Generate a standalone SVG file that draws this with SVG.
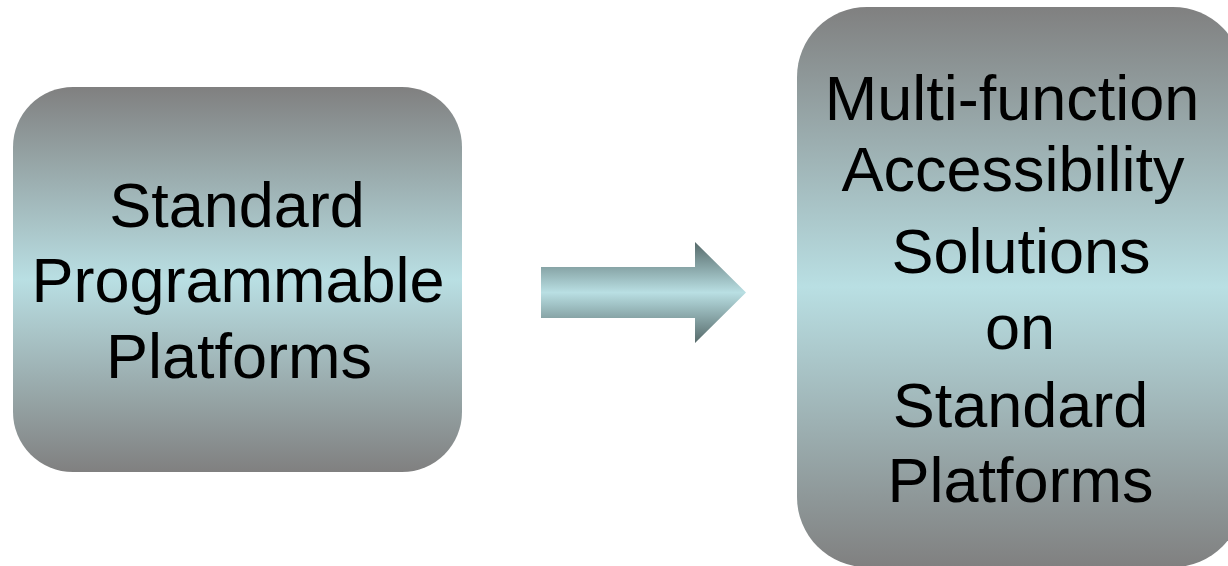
<svg xmlns="http://www.w3.org/2000/svg" width="1228" height="566" viewBox="0 0 1228 566">
  <style>
    .lbl { font-family: "Liberation Sans", Arial, sans-serif; font-size: 63px; fill: #000000; text-anchor: middle; }
  </style>
  <defs>
    <linearGradient id="boxGrad" x1="0" y1="0" x2="0" y2="1">
      <stop offset="0" stop-color="#808080"/>
      <stop offset="0.5" stop-color="#B9DFE3"/>
      <stop offset="1" stop-color="#808080"/>
    </linearGradient>
    <linearGradient id="arrowGrad" x1="0" y1="0" x2="0" y2="1">
      <stop offset="0" stop-color="#566A6A"/>
      <stop offset="0.5" stop-color="#B9DFE3"/>
      <stop offset="1" stop-color="#566A6A"/>
    </linearGradient>
  </defs>
  <rect width="1228" height="566" fill="#FFFFFF"/>
  <g id="node-standard-programmable">
    <rect x="13" y="87" width="449" height="385" rx="60" ry="60" fill="url(#boxGrad)"/>
    <text class="lbl" x="237" y="227">Standard</text>
    <text class="lbl" x="238" y="302">Programmable</text>
    <text class="lbl" x="239" y="378">Platforms</text>
  </g>
  <g id="node-multifunction">
    <rect x="797" y="7" width="446" height="560" rx="70" ry="70" fill="url(#boxGrad)"/>
    <text class="lbl" x="1012" y="120">Multi-function</text>
    <text class="lbl" x="1013" y="191">Accessibility</text>
    <text class="lbl" x="1021" y="273">Solutions</text>
    <text class="lbl" x="1020" y="349">on</text>
    <text class="lbl" x="1020.5" y="427">Standard</text>
    <text class="lbl" x="1020.5" y="502">Platforms</text>
  </g>
  <g id="connectors">
    <path d="M541,267 L695,267 L695,242 L746,292.5 L695,343 L695,318 L541,318 Z" fill="url(#arrowGrad)"/>
  </g>
</svg>
